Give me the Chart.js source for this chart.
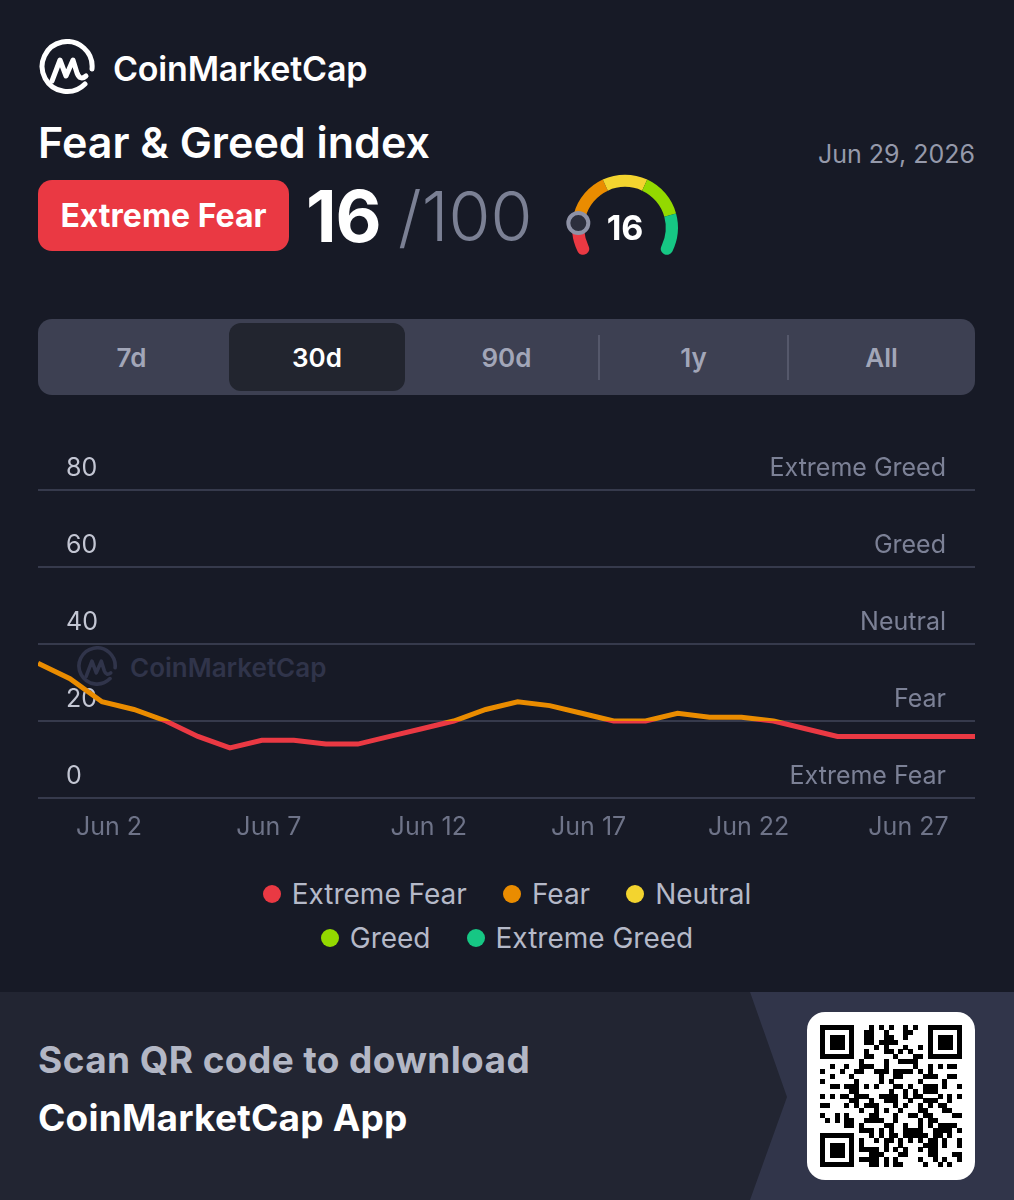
<!DOCTYPE html>
<html>
<head>
<meta charset="utf-8">
<script src="https://cdn.jsdelivr.net/npm/chart.js@4.4.1/dist/chart.umd.min.js"></script>
<style>
  html, body { margin: 0; padding: 0; background: #171a26; }
  body { width: 1014px; height: 1200px; position: relative; overflow: hidden; font-family: Inter, "Noto Sans", sans-serif; color: #fff; }
  .abs { position: absolute; }
  #brand { left: 38px; top: 38px; height: 60px; display: flex; align-items: center; }
  #brand span { font-size: 34px; font-weight: 600; margin-left: 17px; letter-spacing: -0.2px; }
  #title { left: 38px; top: 115px; font-size: 43px; font-weight: 600; line-height: 54px; }
  #date { right: 39px; top: 139px; font-size: 25px; color: #9599aa; line-height: 30px; }
  #badge { left: 38px; top: 180px; width: 251px; height: 71px; border-radius: 14px; background: #ea3943; font-size: 32px; font-weight: 700; display: flex; align-items: center; justify-content: center; }
  #score { left: 306px; top: 174px; font-size: 71px; font-weight: 700; line-height: 84px; letter-spacing: -1px; }
  #outof { left: 398px; top: 174px; font-size: 68px; font-weight: 300; color: #7b8094; line-height: 84px; }
  #gauge { left: 564px; top: 166px; width: 122px; height: 100px; }
  #gaugeVal { left: 585px; top: 206px; width: 80px; text-align: center; font-size: 34px; font-weight: 700; line-height: 44px; }
  #tabs { left: 38px; top: 319px; width: 937px; height: 76px; border-radius: 14px; background: #3d4052; }
  .tab { position: absolute; top: 0; height: 76px; width: 187px; display: flex; align-items: center; justify-content: center; font-size: 26px; font-weight: 600; color: #a2a6b8; }
  .tab.on { background: #22252f; border-radius: 12px; top: 4px; height: 68px; color: #fff; }
  .sep { position: absolute; top: 16px; width: 2px; height: 45px; background: #55586b; }
  #wm { left: 76px; top: 646px; display: flex; align-items: center; color: #30344a; }
  #wm span { font-size: 26px; font-weight: 600; margin-left: 12px; }
  #chartBox { left: 0; top: 370px; width: 1014px; height: 486px; }
  #legend { left: 0; top: 872px; width: 1014px; }
  .row { display: flex; justify-content: center; height: 44px; align-items: center; }
  .item { display: flex; align-items: center; margin: 0 18px; font-size: 28px; color: #b5b9c8; }
  .dot { width: 18px; height: 18px; border-radius: 50%; margin-right: 11px; }
  #banner { left: 0; top: 992px; width: 1014px; height: 208px; background: #222532; }
  #panel { left: 750px; top: 0; width: 264px; height: 208px; background: #31354a; clip-path: polygon(0 0, 100% 0, 100% 100%, 0 100%, 37px 105px); }
  #scan { left: 38px; top: 45px; font-size: 37px; font-weight: 700; color: #b3b7c5; letter-spacing: 0.4px; }
  #app { left: 38px; top: 103px; font-size: 37px; font-weight: 700; color: #fff; letter-spacing: 0.2px; }
  #qrBox { left: 807px; top: 20px; width: 168px; height: 168px; background: #fff; border-radius: 18px; }
  #qr { left: 13px; top: 13px; }
</style>
</head>
<body>
<div id="brand" class="abs">
  <svg width="58" height="58" viewBox="0 0 58 58">
    <path d="M47 45 A25 25 0 1 1 54 30" fill="none" stroke="#fff" stroke-width="5" stroke-linecap="round"/>
    <path d="M14 42 L22 21 L28 37 L35 21 L39 34 Q42 42 48 37" fill="none" stroke="#fff" stroke-width="5" stroke-linecap="round" stroke-linejoin="round"/>
  </svg>
  <span>CoinMarketCap</span>
</div>
<div id="title" class="abs">Fear &amp; Greed index</div>
<div id="date" class="abs"></div>
<div id="badge" class="abs"></div>
<div id="score" class="abs"></div>
<div id="outof" class="abs">/100</div>
<canvas id="gauge" class="abs" width="122" height="100"></canvas>
<div id="gaugeVal" class="abs"></div>

<div id="tabs" class="abs">
  <div class="tab" style="left:0">7d</div>
  <div class="tab on" style="left:191px;width:176px">30d</div>
  <div class="tab" style="left:375px">90d</div>
  <div class="sep" style="left:560px"></div>
  <div class="tab" style="left:562px">1y</div>
  <div class="sep" style="left:749px"></div>
  <div class="tab" style="left:750px">All</div>
</div>

<div id="wm" class="abs">
  <svg width="42" height="42" viewBox="0 0 58 58">
    <path d="M47 45 A25 25 0 1 1 54 30" fill="none" stroke="#30344a" stroke-width="5" stroke-linecap="round"/>
    <path d="M14 42 L22 21 L28 37 L35 21 L39 34 Q42 42 48 37" fill="none" stroke="#30344a" stroke-width="5" stroke-linecap="round" stroke-linejoin="round"/>
  </svg>
  <span>CoinMarketCap</span>
</div>

<div id="chartBox" class="abs"><canvas id="fgChart"></canvas></div>
<div id="legend" class="abs"></div>

<div id="banner" class="abs">
  <div id="panel" class="abs"></div>
  <div id="scan" class="abs">Scan QR code to download</div>
  <div id="app" class="abs">CoinMarketCap App</div>
  <div id="qrBox" class="abs"><canvas id="qr" class="abs" width="142" height="142"></canvas></div>
</div>

<script>
const days = ["May 31", "Jun 1", "Jun 2", "Jun 3", "Jun 4", "Jun 5", "Jun 6", "Jun 7", "Jun 8", "Jun 9",
  "Jun 10", "Jun 11", "Jun 12", "Jun 13", "Jun 14", "Jun 15", "Jun 16", "Jun 17", "Jun 18", "Jun 19",
  "Jun 20", "Jun 21", "Jun 22", "Jun 23", "Jun 24", "Jun 25", "Jun 26", "Jun 27", "Jun 28", "Jun 29", "Jun 30"];
const indexValues = [35, 31, 25, 23, 20, 16, 13, 15, 15, 14, 14, 16, 18, 20, 23, 25, 24, 22, 20, 20,
  22, 21, 21, 20, 18, 16, 16, 16, 16, 16, 16];
const tickDays = ["Jun 2", "Jun 7", "Jun 12", "Jun 17", "Jun 22", "Jun 27"];
const yTicks = [0, 20, 40, 60, 80];
const zoneNames = ["Extreme Fear", "Fear", "Neutral", "Greed", "Extreme Greed"];
const zoneColors = ["#ea3943", "#ea8c00", "#f3d42f", "#93d900", "#16c784"];
const zoneBounds = [0, 20, 40, 60, 80, 100];
const zoneSizes = [20, 20, 20, 20, 20];
const currentValue = 16;
const currentLabel = "Extreme Fear";
const asOf = "Jun 29, 2026";

document.getElementById("date").textContent = asOf;
document.getElementById("badge").textContent = currentLabel;
document.getElementById("score").textContent = currentValue;
document.getElementById("gaugeVal").textContent = currentValue;

// legend: 3 + 2 rows like the app
const legend = document.getElementById("legend");
[[0, 1, 2], [3, 4]].forEach((idx) => {
  const row = document.createElement("div");
  row.className = "row";
  idx.forEach((i) => {
    row.insertAdjacentHTML("beforeend",
      `<div class="item"><span class="dot" style="background:${zoneColors[i]}"></span>${zoneNames[i]}</div>`);
  });
  legend.appendChild(row);
});

function zoneGradient(ctx) {
  const { chart } = ctx;
  if (!chart.chartArea) return zoneColors[0];
  const y = chart.scales.y;
  const g = chart.ctx.createLinearGradient(0, y.getPixelForValue(0), 0, y.getPixelForValue(100));
  zoneColors.forEach((c, i) => {
    g.addColorStop(zoneBounds[i] / 100, c);
    g.addColorStop(zoneBounds[i + 1] / 100, c);
  });
  return g;
}

// zone names on the right, above each grid line
const zoneLabels = {
  id: "zoneLabels",
  beforeDatasetsDraw(chart) {
    const { ctx, chartArea, scales: { y } } = chart;
    ctx.save();
    ctx.font = "25px Inter";
    ctx.fillStyle = "#7c8196";
    ctx.textAlign = "right";
    ctx.textBaseline = "middle";
    yTicks.forEach((v, i) => ctx.fillText(zoneNames[i], chartArea.right - 29, y.getPixelForValue(v) - 22));
    ctx.restore();
  },
};

const setTicks = (vals) => (scale) => { scale.ticks = vals.map((v) => ({ value: v })); };

new Chart(document.getElementById("fgChart"), {
  type: "line",
  data: {
    datasets: [{
      data: indexValues.map((v, i) => ({ x: i, y: v })),
      borderColor: zoneGradient,
      borderWidth: 5,
      pointRadius: 0,
      tension: 0,
      clip: 0,
    }],
  },
  options: {
    responsive: true,
    maintainAspectRatio: false,
    animation: false,
    layout: { padding: { left: -18, right: 39, top: 0, bottom: 0 } },
    plugins: { legend: { display: false }, tooltip: { enabled: false } },
    scales: {
      x: {
        type: "linear",
        min: 0,
        max: 29.3,
        afterBuildTicks: setTicks(tickDays.map((d) => days.indexOf(d))),
        grid: { display: false, drawTicks: false },
        border: { display: false },
        ticks: {
          color: "#6e7388",
          font: { family: "Inter", size: 25 },
          padding: 14,
          maxRotation: 0,
          autoSkip: false,
          labelOffset: 7,
          callback: (v) => days[v],
        },
      },
      y: {
        min: 0,
        max: 100,
        afterBuildTicks: setTicks(yTicks),
        grid: { color: "#363a4c", lineWidth: 2, drawTicks: false },
        border: { display: false },
        ticks: {
          mirror: true,
          padding: 28,
          labelOffset: -22,
          color: "#c3c6d3",
          font: { family: "Inter", size: 25 },
        },
      },
    },
  },
  plugins: [zoneLabels],
});

// gauge knob at the current value
const knobPlugin = {
  id: "knob",
  afterDatasetsDraw(chart) {
    const arcs = chart.getDatasetMeta(0).data;
    let acc = 0;
    let zone = 0;
    while (zone < zoneSizes.length - 1 && currentValue > acc + zoneSizes[zone]) { acc += zoneSizes[zone]; zone++; }
    const a = arcs[zone];
    const t = (currentValue - acc) / zoneSizes[zone];
    const ang = a.startAngle + t * (a.endAngle - a.startAngle);
    const r = (a.innerRadius + a.outerRadius) / 2;
    const { ctx } = chart;
    ctx.save();
    ctx.beginPath();
    ctx.arc(a.x + Math.cos(ang) * r, a.y + Math.sin(ang) * r, 10, 0, Math.PI * 2);
    ctx.fillStyle = "#2c2f3d";
    ctx.fill();
    ctx.lineWidth = 4;
    ctx.strokeStyle = "#8e92a6";
    ctx.stroke();
    ctx.restore();
  },
};

new Chart(document.getElementById("gauge"), {
  type: "doughnut",
  data: {
    datasets: [{
      data: zoneSizes,
      backgroundColor: zoneColors,
      borderWidth: 0,
      borderRadius: (ctx) => ctx.dataIndex === 0 ? { outerStart: 6, innerStart: 6, outerEnd: 0, innerEnd: 0 }
        : ctx.dataIndex === zoneSizes.length - 1 ? { outerStart: 0, innerStart: 0, outerEnd: 6, innerEnd: 6 } : 0,
    }],
  },
  options: {
    responsive: false,
    animation: false,
    rotation: -124,
    circumference: 248,
    cutout: "77%",
    layout: { padding: 8 },
    plugins: { legend: { display: false }, tooltip: { enabled: false } },
  },
  plugins: [knobPlugin],
});

// QR-looking decoration
const qc = document.getElementById("qr").getContext("2d");
const N = 29, m = 142 / N;
const cell = (x, y) => { qc.fillStyle = "#000"; qc.fillRect(Math.round(x * m), Math.round(y * m), Math.ceil(m), Math.ceil(m)); };
for (let y = 0; y < N; y++) {
  for (let x = 0; x < N; x++) {
    const inF = (x < 8 && y < 8) || (x >= N - 8 && y < 8) || (x < 8 && y >= N - 8);
    if (inF) continue;
    const h = ((x * 73856093) ^ (y * 19349663) ^ (x * y * 83492791)) >>> 0;
    if (h % 7 < 3) cell(x, y);
  }
}
[[0, 0], [N - 7, 0], [0, N - 7]].forEach(([fx, fy]) => {
  qc.fillStyle = "#000"; qc.fillRect(Math.round(fx * m), Math.round(fy * m), Math.round(7 * m), Math.round(7 * m));
  qc.fillStyle = "#fff"; qc.fillRect(Math.round((fx + 1) * m), Math.round((fy + 1) * m), Math.round(5 * m), Math.round(5 * m));
  qc.fillStyle = "#000"; qc.fillRect(Math.round((fx + 2) * m), Math.round((fy + 2) * m), Math.round(3 * m), Math.round(3 * m));
});
</script>
</body>
</html>
